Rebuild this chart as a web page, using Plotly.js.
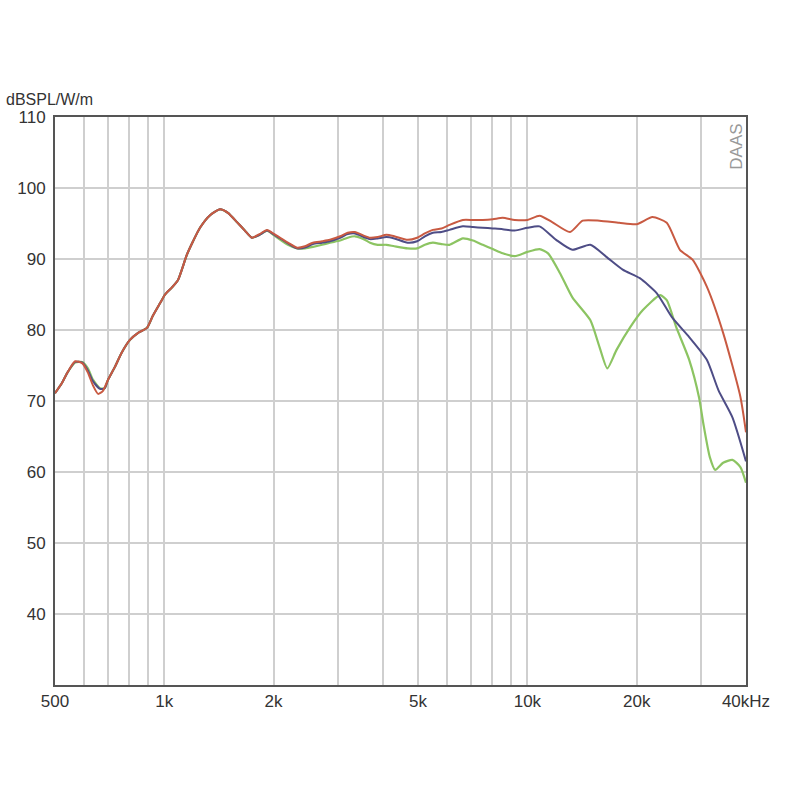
<!DOCTYPE html>
<html>
<head>
<meta charset="utf-8">
<script src="https://cdn.plot.ly/plotly-3.0.1.min.js"></script>
<style>html,body{margin:0;padding:0;background:#fff;}#chart{width:800px;height:800px;}</style>
</head>
<body>
<div id="chart"></div>
<script>
// Frequencies (Hz) sampled for the shared low-frequency region and beyond
const freqRed = [500,522,541,568,595,616,636,657,677,700,731,763,804,847,896,930,974,1005,1050,1090,1154,1200,1254,1339,1423,1497,1585,1667,1743,1829,1918,2010,2190,2320,2440,2566,2720,2858,3050,3200,3349,3540,3687,3870,4091,4300,4680,4970,5220,5490,5800,6100,6640,7080,7535,8030,8550,9230,10000,10800,11700,13100,14200,15800,17900,20000,22100,24200,26300,28500,31200,34600,38600,40000];
const dbRed   = [71.1,72.5,74.0,75.6,75.3,74.0,72.2,71.0,71.4,73.0,74.8,76.8,78.6,79.6,80.3,82.0,83.8,85.0,86.0,87.0,90.6,92.5,94.4,96.2,97.0,96.5,95.2,94.0,93.0,93.5,94.1,93.5,92.3,91.6,91.8,92.3,92.5,92.7,93.2,93.7,93.8,93.3,93.0,93.1,93.4,93.2,92.7,93.0,93.6,94.1,94.3,94.8,95.5,95.5,95.5,95.6,95.8,95.5,95.5,96.1,95.2,93.8,95.4,95.4,95.1,94.9,95.9,95.1,91.3,89.9,86.1,79.6,70.6,65.6];

const freqBlue = [500,522,541,568,595,616,636,665,685,700,731,763,804,847,896,930,974,1005,1050,1090,1154,1200,1254,1339,1423,1497,1585,1667,1743,1829,1918,2010,2190,2320,2440,2566,2720,2858,3050,3200,3349,3540,3687,3870,4091,4300,4680,4970,5220,5490,5800,6100,6640,7080,7535,8030,8550,9230,10000,10800,12000,13300,14900,16500,18300,20400,22700,25000,27900,31200,33600,36700,40000];
const dbBlue   = [71.1,72.5,74.0,75.5,75.4,74.3,72.8,71.7,71.8,73.0,74.8,76.8,78.6,79.6,80.3,82.0,83.8,85.0,86.0,87.0,90.6,92.5,94.4,96.2,97.0,96.5,95.2,94.0,93.0,93.4,94.0,93.4,92.2,91.5,91.6,92.1,92.3,92.5,93.0,93.5,93.6,93.1,92.8,92.9,93.1,92.9,92.3,92.5,93.2,93.7,93.8,94.1,94.6,94.5,94.4,94.3,94.2,94.0,94.4,94.6,92.7,91.3,92.0,90.3,88.5,87.3,85.2,81.8,79.0,75.8,71.5,67.7,61.5];

const freqGreen = [500,522,541,568,595,616,636,665,685,700,731,763,804,847,896,930,974,1005,1050,1090,1154,1200,1254,1339,1423,1497,1585,1667,1743,1829,1918,2010,2190,2320,2440,2566,2720,2858,3050,3200,3349,3540,3687,3870,4091,4300,4680,4970,5220,5490,5800,6100,6640,7080,7535,8030,8550,9230,10000,10800,11400,12300,13300,14900,15800,16600,17600,19200,20800,23200,24200,25700,27900,29700,30500,31800,32900,34600,36700,38600,40000];
const dbGreen   = [71.1,72.5,74.0,75.4,75.5,74.6,73.0,71.8,71.8,73.0,74.8,76.8,78.6,79.6,80.3,82.0,83.8,85.0,86.0,87.0,90.6,92.5,94.4,96.2,97.0,96.5,95.2,94.0,93.0,93.4,94.0,93.3,92.0,91.5,91.5,91.7,92.0,92.3,92.6,93.0,93.2,92.8,92.3,92.0,92.0,91.8,91.5,91.5,92.0,92.3,92.1,92.0,92.9,92.6,92.0,91.4,90.8,90.4,91.0,91.4,90.8,88.0,84.6,81.4,77.6,74.6,77.2,80.4,82.8,84.9,84.2,80.4,75.8,70.5,66.9,62.1,60.3,61.3,61.7,60.7,58.5];

const xTickVals = [500,600,700,800,900,1000,2000,3000,4000,5000,6000,7000,8000,9000,10000,20000,30000,40000];
const xTickText = ["500","","","","","1k","2k","","","5k","","","","","10k","20k","","40kHz"];
const yTickVals = [30,40,50,60,70,80,90,100,110];
const yTickText = ["","40","50","60","70","80","90","100","110"];

const colGreen = "#8cc462", colBlue = "#4e4d86", colRed = "#c85a42";

const traces = [
  {x: freqGreen, y: dbGreen, mode: "lines", line: {color: colGreen, width: 2.2, shape: "spline", smoothing: 0.6}, hoverinfo: "skip"},
  {x: freqBlue,  y: dbBlue,  mode: "lines", line: {color: colBlue,  width: 2.0, shape: "spline", smoothing: 0.6}, hoverinfo: "skip"},
  {x: freqRed,   y: dbRed,   mode: "lines", line: {color: colRed,   width: 2.0, shape: "spline", smoothing: 0.6}, hoverinfo: "skip"}
];

const tickFont = {family: "Liberation Sans, Arial, sans-serif", size: 17, color: "#333"};

const layout = {
  width: 800, height: 800,
  margin: {l: 55, r: 54, t: 117, b: 115},
  paper_bgcolor: "#fff", plot_bgcolor: "#fff",
  showlegend: false,
  xaxis: {
    type: "log", range: [Math.log10(500), Math.log10(40000)],
    tickmode: "array", tickvals: xTickVals, ticktext: xTickText,
    showgrid: true, gridcolor: "#cfcfcf", gridwidth: 2,
    showline: true, linecolor: "#555", linewidth: 2, mirror: true,
    ticks: "", tickfont: tickFont, zeroline: false, fixedrange: true
  },
  yaxis: {
    range: [30, 110],
    tickmode: "array", tickvals: yTickVals, ticktext: yTickText,
    showgrid: true, gridcolor: "#cfcfcf", gridwidth: 2,
    showline: true, linecolor: "#555", linewidth: 2, mirror: true,
    ticks: "", ticklabelstandoff: 4, tickfont: tickFont, zeroline: false, fixedrange: true
  },
  annotations: [
    {text: "dBSPL/W/m", xref: "paper", yref: "paper", x: -0.074, y: 1.03, xanchor: "left", yanchor: "middle",
     showarrow: false, font: {family: "Liberation Sans, Arial, sans-serif", size: 16, color: "#333"}},
    {text: "DAAS", xref: "paper", yref: "paper", x: 0.985, y: 0.947, xanchor: "center", yanchor: "middle",
     textangle: -90, showarrow: false, font: {family: "Liberation Sans, Arial, sans-serif", size: 17, color: "#999"}}
  ]
};

Plotly.newPlot("chart", traces, layout, {staticPlot: true, displayModeBar: false});
</script>
</body>
</html>
